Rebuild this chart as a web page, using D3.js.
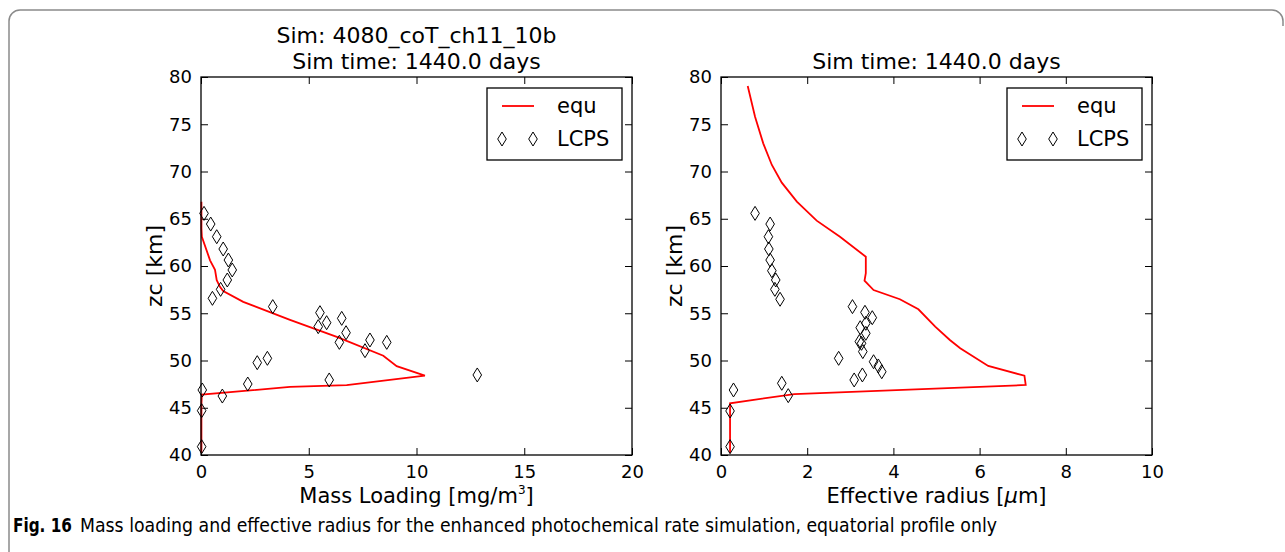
<!DOCTYPE html>
<html>
<head>
<meta charset="utf-8">
<script src="https://cdn.jsdelivr.net/npm/d3@7"></script>
<style>
  html, body { margin: 0; padding: 0; background: #fff; }
  svg text { font-family: "DejaVu Sans", sans-serif; fill: #000; }
</style>
</head>
<body>
<svg id="fig" width="1285" height="552"></svg>
<script>
// ---- data ----
// tick labels
var altTicks = [40, 45, 50, 55, 60, 65, 70, 75, 80];
var massTicks = [0, 5, 10, 15, 20];
var reffTicks = [0, 2, 4, 6, 8, 10];

// model profile "equ", mass loading [mg/m3] vs altitude [km]
var equMassAlt = [66.8, 64, 63.1, 60.6, 59.6, 58.5, 57.8, 57.35, 56.2, 54.3, 52.5, 50.5, 49.4, 48.4, 47.4, 47.2, 46.4, 45.4, 40.2];
var equMass = [0.02, 0.02, 0.04, 0.42, 0.65, 0.73, 0.88, 1.03, 1.96, 4.13, 6.3, 8.46, 9.08, 10.39, 6.76, 4.13, 0.04, 0.02, 0.02];

// model profile "equ", effective radius [um] vs altitude [km]
var equReffAlt = [79.05, 75.8, 72.98, 70.69, 68.82, 66.81, 64.8, 63.1, 60.98, 59.23, 58.45, 57.46, 56.48, 55.42, 53.58, 52.17, 51.29, 49.42, 48.39, 47.41, 46.45, 45.47, 40.18];
var equReff = [0.62, 0.79, 0.98, 1.18, 1.41, 1.76, 2.22, 2.76, 3.36, 3.36, 3.33, 3.54, 4.15, 4.58, 4.97, 5.31, 5.55, 6.2, 7.04, 7.07, 1.7, 0.21, 0.21];

// LCPS observations, mass loading
var lcpsMassAlt = [65.57, 64.44, 63.1, 61.8, 60.63, 59.58, 58.52, 57.53, 56.58, 55.7, 55.06, 53.58, 54.0, 54.46, 52.94, 51.92, 52.17, 51.04, 51.92, 50.23, 49.77, 47.51, 47.94, 48.47, 46.24, 46.88, 44.69, 40.88];
var lcpsMass = [0.14, 0.45, 0.73, 1.03, 1.27, 1.45, 1.22, 0.91, 0.53, 3.33, 5.52, 5.44, 5.83, 6.53, 6.73, 6.42, 7.84, 7.61, 8.62, 3.08, 2.61, 2.17, 5.95, 12.82, 0.99, 0.06, 0.03, 0.03];

// LCPS observations, effective radius
var lcpsReffAlt = [65.57, 64.44, 63.1, 61.8, 60.63, 59.5, 58.52, 57.53, 56.48, 55.7, 55.1, 54.53, 53.94, 53.47, 52.88, 52.0, 51.82, 50.94, 50.23, 49.87, 49.42, 48.81, 48.47, 47.94, 47.59, 46.88, 46.28, 44.66, 40.88];
var lcpsReff = [0.79, 1.14, 1.1, 1.11, 1.14, 1.18, 1.27, 1.25, 1.37, 3.05, 3.34, 3.51, 3.36, 3.23, 3.36, 3.21, 3.26, 3.29, 2.73, 3.54, 3.65, 3.73, 3.28, 3.09, 1.41, 0.29, 1.56, 0.21, 0.21];

var svg = d3.select('#fig');
var fs = 22;       // titles, y label
var xfs = 21;      // x axis labels
var tfs = 18;      // tick labels
var lfs = 21;      // legend
var tick = 7;      // tick length, drawn inward
var diamond = 'M0,-7L4.3,0L0,7L-4.3,0Z';

// figure frame (rounded box of the journal page)
svg.append('path')
    .attr('d', 'M9,552V21A11,11 0 0 1 20,10H1272A11,11 0 0 1 1283,21V26')
    .attr('fill', 'none')
    .attr('stroke', '#8a8a8a')
    .attr('stroke-width', 1.5);

function drawPanel(opts) {
    var x = d3.scaleLinear().domain(opts.xDomain).range([opts.left, opts.right]);
    var y = d3.scaleLinear().domain([40, 80]).range([455, 77]);
    var g = svg.append('g');

    // axes with inward ticks on all sides
    var bottom = g.append('g').attr('transform', 'translate(0,455)')
        .call(d3.axisBottom(x).tickValues(opts.xTicks).tickSize(-tick).tickPadding(10).tickFormat(d3.format('d')));
    var top = g.append('g').attr('transform', 'translate(0,77)')
        .call(d3.axisTop(x).tickValues(opts.xTicks).tickSize(-tick).tickFormat(''));
    var left = g.append('g').attr('transform', 'translate(' + opts.left + ',0)')
        .call(d3.axisLeft(y).tickValues(altTicks).tickSize(-tick).tickPadding(9).tickFormat(d3.format('d')));
    var right = g.append('g').attr('transform', 'translate(' + opts.right + ',0)')
        .call(d3.axisRight(y).tickValues(altTicks).tickSize(-tick).tickFormat(''));
    [bottom, top, left, right].forEach(function(a) {
        a.select('.domain').remove();
        a.selectAll('line').attr('stroke', '#000').attr('stroke-width', 1);
        a.selectAll('text').attr('font-family', '"DejaVu Sans"').attr('font-size', tfs);
    });

    // equ line
    var pts = opts.lineX.map(function(v, i) { return [v, opts.lineY[i]]; });
    g.append('path')
        .attr('d', d3.line().x(function(d) { return x(d[0]); }).y(function(d) { return y(d[1]); })(pts))
        .attr('fill', 'none')
        .attr('stroke', '#ff0000')
        .attr('stroke-width', 1.8);

    // LCPS markers
    g.selectAll('.lcps')
        .data(opts.ptsX.map(function(v, i) { return [v, opts.ptsY[i]]; }))
        .enter()
        .append('path')
        .attr('d', diamond)
        .attr('transform', function(d) { return 'translate(' + x(d[0]) + ',' + y(d[1]) + ')'; })
        .attr('fill', 'none')
        .attr('stroke', '#000')
        .attr('stroke-width', 1);

    // frame
    g.append('rect')
        .attr('x', opts.left).attr('y', 77)
        .attr('width', opts.right - opts.left).attr('height', 455 - 77)
        .attr('fill', 'none').attr('stroke', '#000').attr('stroke-width', 1.3);

    // titles and labels
    var cx = (opts.left + opts.right) / 2;
    opts.title.forEach(function(t, i) {
        g.append('text')
            .attr('x', cx).attr('y', 69 - (opts.title.length - 1 - i) * 26)
            .attr('text-anchor', 'middle').attr('font-size', fs).text(t);
    });
    var xl = g.append('text')
        .attr('x', cx).attr('y', 503)
        .attr('text-anchor', 'middle').attr('font-size', xfs);
    opts.xLabel(xl);
    g.append('text')
        .attr('transform', 'translate(' + (opts.left - 39) + ',266) rotate(-90)')
        .attr('text-anchor', 'middle').attr('font-size', fs)
        .text('zc [km]');

    // legend
    var lx = opts.right - 145, ly = 88;
    g.append('rect')
        .attr('x', lx).attr('y', ly).attr('width', 135).attr('height', 72)
        .attr('fill', '#fff').attr('stroke', '#000').attr('stroke-width', 1.3);
    g.append('line')
        .attr('x1', lx + 15).attr('x2', lx + 47).attr('y1', ly + 18).attr('y2', ly + 18)
        .attr('stroke', '#ff0000').attr('stroke-width', 1.8);
    [lx + 15, lx + 46].forEach(function(px) {
        g.append('path').attr('d', diamond)
            .attr('transform', 'translate(' + px + ',' + (ly + 51) + ')')
            .attr('fill', 'none').attr('stroke', '#000');
    });
    g.append('text').attr('x', lx + 70).attr('y', ly + 25).attr('font-size', lfs).text('equ');
    g.append('text').attr('x', lx + 70).attr('y', ly + 58).attr('font-size', lfs).text('LCPS');
}

drawPanel({
    left: 201, right: 632, xDomain: [0, 20], xTicks: massTicks,
    lineX: equMass, lineY: equMassAlt, ptsX: lcpsMass, ptsY: lcpsMassAlt,
    title: ['Sim: 4080_coT_ch11_10b', 'Sim time: 1440.0 days'],
    xLabel: function(t) {
        t.append('tspan').text('Mass Loading [mg/m');
        t.append('tspan').attr('font-size', 12).attr('dy', -9).text('3');
        t.append('tspan').attr('dy', 9).text(']');
    }
});

drawPanel({
    left: 721, right: 1152, xDomain: [0, 10], xTicks: reffTicks,
    lineX: equReff, lineY: equReffAlt, ptsX: lcpsReff, ptsY: lcpsReffAlt,
    title: ['Sim time: 1440.0 days'],
    xLabel: function(t) {
        t.append('tspan').text('Effective radius [');
        t.append('tspan').attr('font-style', 'italic').text('\u03bc');
        t.append('tspan').text('m]');
    }
});

// caption
svg.append('text')
    .attr('x', 13).attr('y', 532)
    .attr('font-family', '"Open Sans", sans-serif')
    .attr('font-weight', 'bold').attr('font-size', 19)
    .attr('textLength', 59).attr('lengthAdjust', 'spacingAndGlyphs')
    .text('Fig. 16');
svg.append('text')
    .attr('x', 80).attr('y', 532)
    .attr('font-family', '"Open Sans", sans-serif')
    .attr('font-size', 19)
    .attr('textLength', 917).attr('lengthAdjust', 'spacingAndGlyphs')
    .text('Mass loading and effective radius for the enhanced photochemical rate simulation, equatorial profile only');
</script>
</body>
</html>
